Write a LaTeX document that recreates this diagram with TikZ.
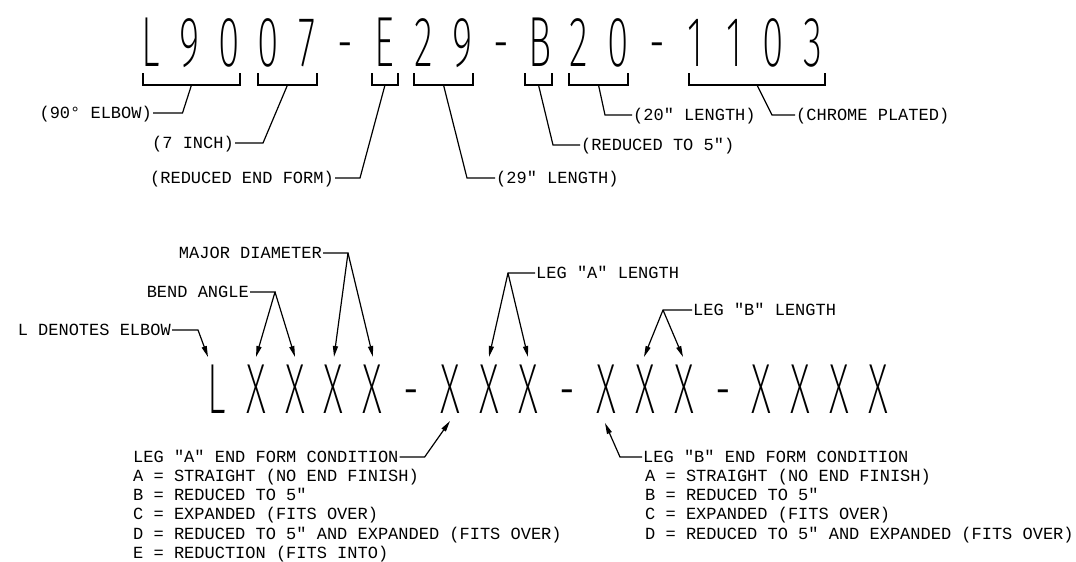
\documentclass[tikz,border=0pt]{standalone}
\usepackage{fontspec}
\usepackage{xcolor}
\usepackage{tikz}
\usetikzlibrary{arrows.meta}

\newfontfamily\cadtext{Liberation Mono}
\IfFontExistsTF{Fira Sans ExtraLight}
  {\newfontfamily\cadbig{Fira Sans ExtraLight}[FakeStretch=0.55]}
  {\IfFontExistsTF{Fira Sans Light}
    {\newfontfamily\cadbig{Fira Sans Light}[FakeStretch=0.55]}
    {\newfontfamily\cadbig{Liberation Sans}[FakeStretch=0.55]}}

% every character of the big codes in a box of the same width
\newcommand\monospread[1]{\spreadloop#1\relax}
\def\spreadloop#1{\ifx#1\relax\else\makebox[38.9pt]{#1}\expandafter\spreadloop\fi}

\begin{document}
\begin{tikzpicture}[
    x=1pt, y=-1pt,
    code/.style={inner sep=0pt, font=\cadbig\fontsize{71}{71}\selectfont},
    note/.style={inner sep=1pt, font=\cadtext\fontsize{17}{19.3}\selectfont,
                 text height=11.2pt, text depth=0pt},
    legend/.style={inner sep=1pt, font=\cadtext\fontsize{17}{19.3}\selectfont, align=left},
    bracket/.style={line width=1.3pt},
    leader/.style={line width=1.2pt},
    arrow/.style={-{Triangle[length=11pt, width=5pt]}, line width=1.2pt},
]
\path[use as bounding box, fill=white] (0,0) rectangle (1076,562);

% example part number
\node[code, anchor=base west] (partno) at (131.5,66) {\monospread{L9007-E29-B20-1103}};

\draw[bracket] (143,73) |- coordinate[pos=0.75] (brElbow) (240,85) -- (240,73);
\draw[bracket] (258,73) |- coordinate[pos=0.75] (brSize) (317,85) -- (317,73);
\draw[bracket] (372,73) |- coordinate[pos=0.75] (brEndA) (398,85) -- (398,73);
\draw[bracket] (414,73) |- coordinate[pos=0.75] (brLegA) (473,85) -- (473,73);
\draw[bracket] (525,73) |- coordinate[pos=0.75] (brEndB) (552,85) -- (552,73);
\draw[bracket] (569,73) |- coordinate[pos=0.75] (brLegB) (628,85) -- (628,73);
\draw[bracket] (689,73) |- coordinate[pos=0.75] (brFinish) (825,85) -- (825,73);

\node[note, anchor=east] (elbow)   at (153,113) {(90° ELBOW)};
\node[note, anchor=east] (inch)    at (235,143) {(7 INCH)};
\node[note, anchor=east] (endform) at (335,178) {(REDUCED END FORM)};
\node[note, anchor=west] (len29)   at (495,178) {(29" LENGTH)};
\node[note, anchor=west] (red5)    at (580,145) {(REDUCED TO 5")};
\node[note, anchor=west] (len20)   at (632,115) {(20" LENGTH)};
\node[note, anchor=west] (chrome)  at (795,115) {(CHROME PLATED)};

\draw[leader] (brElbow) -- ++(-9,28) -- (elbow.east);
\draw[leader] (brSize) -- ++(-24.5,58) -- (inch.east);
\draw[leader] (brEndA) -- ++(-25,93) -- (endform.east);
\draw[leader] (brLegA) -- ++(23.5,93) -- (len29.west);
\draw[leader] (brEndB) -- ++(14.5,60) -- (red5.west);
\draw[leader] (brLegB) -- ++(6.5,30) -- (len20.west);
\draw[leader] (brFinish) -- ++(15,30) -- (chrome.west);

% general pattern
\node[code, anchor=base west] (pattern) at (197.5,413) {\monospread{LXXXX-XXX-XXX-XXXX}};

\coordinate (tipL)     at (208,357);
\coordinate (tipBend1) at (256,357);
\coordinate (tipBend2) at (295,357);
\coordinate (tipDia1)  at (334,357);
\coordinate (tipDia2)  at (373,357);
\coordinate (tipLegA1) at (489,357);
\coordinate (tipLegA2) at (528,357);
\coordinate (tipLegB1) at (644,357);
\coordinate (tipLegB2) at (683,357);
\coordinate (tipEndA)  at (450,421);
\coordinate (tipEndB)  at (605,423);

\node[note, anchor=east] (denotes) at (172,330) {L DENOTES ELBOW};
\node[note, anchor=east] (bend)    at (250,292) {BEND ANGLE};
\node[note, anchor=east] (major)   at (323,253) {MAJOR DIAMETER};
\node[note, anchor=west] (lenA)    at (535,273) {LEG "A" LENGTH};
\node[note, anchor=west] (lenB)    at (692,310) {LEG "B" LENGTH};

\draw[arrow] (denotes.east) -- ++(26,0) -- (tipL);
\draw[arrow] (bend.east) -- ++(25,0) coordinate (bendFork) -- (tipBend1);
\draw[arrow] (bendFork) -- (tipBend2);
\draw[arrow] (major.east) -- ++(25,0) coordinate (diaFork) -- (tipDia1);
\draw[arrow] (diaFork) -- (tipDia2);
\draw[arrow] (lenA.west) -- ++(-27,0) coordinate (lenAFork) -- (tipLegA1);
\draw[arrow] (lenAFork) -- (tipLegA2);
\draw[arrow] (lenB.west) -- ++(-29,0) coordinate (lenBFork) -- (tipLegB1);
\draw[arrow] (lenBFork) -- (tipLegB2);

% end form conditions
\node[note, anchor=west] (condA) at (132,457) {LEG "A" END FORM CONDITION};
\node[legend, anchor=north west] (optsA) at ([yshift=-4pt]condA.south west)
    {A = STRAIGHT (NO END FINISH)\\
     B = REDUCED TO 5"\\
     C = EXPANDED (FITS OVER)\\
     D = REDUCED TO 5" AND EXPANDED (FITS OVER)\\
     E = REDUCTION (FITS INTO)};
\draw[arrow] (condA.east) -- ++(25,0) -- (tipEndA);

\node[note, anchor=west] (condB) at (642,457) {LEG "B" END FORM CONDITION};
\node[legend, anchor=north west] (optsB) at ([xshift=2pt, yshift=-4pt]condB.south west)
    {A = STRAIGHT (NO END FINISH)\\
     B = REDUCED TO 5"\\
     C = EXPANDED (FITS OVER)\\
     D = REDUCED TO 5" AND EXPANDED (FITS OVER)};
\draw[arrow] (condB.west) -- ++(-22,0) -- (tipEndB);

\end{tikzpicture}
\end{document}
